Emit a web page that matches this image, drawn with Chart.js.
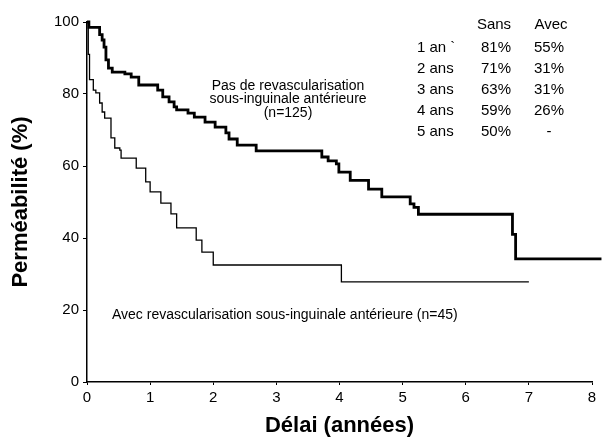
<!DOCTYPE html>
<html>
<head>
<meta charset="utf-8">
<script src="https://cdn.jsdelivr.net/npm/chart.js@4.4.1/dist/chart.umd.min.js"></script>
<style>
  body { margin: 0; background: #fff; }
  canvas { display: block; }
</style>
</head>
<body>
<canvas id="km" width="602" height="444"></canvas>
<script>
// courbes de Kaplan-Meier (temps en années, permeabilité en %)
const sansTemps = [0, 0.03, 0.2, 0.24, 0.27, 0.3, 0.34, 0.4, 0.6, 0.7, 0.82, 1.12, 1.2, 1.3, 1.38, 1.42, 1.6, 1.7, 1.87, 2.03, 2.2, 2.25, 2.38, 2.68, 3.72, 3.82, 3.95, 3.99, 4.17, 4.46, 4.67, 5.12, 5.18, 5.25, 6.74, 6.79, 8.15];
const sansValeurs = [100, 98.5, 96.5, 95, 93, 89.5, 87.2, 86.1, 85.6, 84.7, 82.5, 81.1, 79.2, 77.8, 76.4, 75.6, 74.7, 73.6, 72.2, 70.8, 69.2, 67.5, 65.8, 64.2, 62.5, 61.4, 60.6, 58.3, 56, 53.6, 51.4, 49.5, 48.5, 46.6, 41, 34.2, 34.2];

const avecTemps = [0, 0.02, 0.04, 0.1, 0.14, 0.2, 0.24, 0.28, 0.38, 0.44, 0.52, 0.54, 0.78, 0.93, 1.0, 1.17, 1.33, 1.42, 1.73, 1.82, 2.0, 4.03, 7.0];
const avecValeurs = [100, 91, 84, 81.1, 80.3, 77.5, 75, 73.3, 67.8, 65, 64.4, 62.2, 59.4, 55.6, 52.8, 49.7, 46.7, 42.8, 39.4, 36.1, 32.5, 27.8, 27.8];

// tableau en haut à droite
const tableLignes = ['1 an `', '2 ans', '3 ans', '4 ans', '5 ans'];
const tableSans = ['81%', '71%', '63%', '59%', '50%'];
const tableAvec = ['55%', '31%', '31%', '26%', '-'];

const xTicks = [0, 1, 2, 3, 4, 5, 6, 7, 8];
const yTicks = [0, 20, 40, 60, 80, 100];

const police = '"Liberation Sans", Arial, sans-serif';

function points(t, v) {
  return t.map((x, i) => ({ x: x, y: v[i] }));
}

// textes libres de la figure
const textes = {
  id: 'textes',
  afterDraw(chart) {
    const ctx = chart.ctx;
    ctx.save();
    ctx.fillStyle = '#000';
    ctx.textBaseline = 'middle';

    ctx.font = '14px ' + police;
    ctx.textAlign = 'center';
    ctx.fillText('Pas de revascularisation', 288, 86);
    ctx.fillText('sous-inguinale antérieure', 288, 99);
    ctx.fillText('(n=125)', 288, 113);

    ctx.textAlign = 'left';
    ctx.fillText('Avec revascularisation sous-inguinale antérieure (n=45)', 112, 315);

    ctx.font = '15px ' + police;
    ctx.textAlign = 'center';
    ctx.fillText('Sans', 494, 25);
    ctx.fillText('Avec', 551, 25);
    tableLignes.forEach((l, i) => {
      const y = 48 + i * 21;
      ctx.textAlign = 'left';
      ctx.fillText(l, 417, y);
      ctx.textAlign = 'center';
      ctx.fillText(tableSans[i], 496, y);
      ctx.fillText(tableAvec[i], 549, y);
    });
    ctx.restore();
  }
};

new Chart(document.getElementById('km'), {
  type: 'line',
  data: {
    datasets: [
      {
        label: 'Sans',
        data: points(sansTemps, sansValeurs),
        stepped: true,
        borderColor: '#000',
        borderWidth: 2.8,
        pointRadius: 0,
        fill: false,
        clip: false
      },
      {
        label: 'Avec',
        data: points(avecTemps, avecValeurs),
        stepped: true,
        borderColor: '#000',
        borderWidth: 1.3,
        pointRadius: 0,
        fill: false
      }
    ]
  },
  options: {
    responsive: false,
    animation: false,
    layout: { padding: { top: 22, right: 10, left: 0, bottom: 0 } },
    plugins: {
      legend: { display: false },
      tooltip: { enabled: false }
    },
    scales: {
      x: {
        type: 'linear',
        min: 0,
        max: 8,
        afterFit: s => { s.height = 62; },
        afterBuildTicks: s => { s.ticks = xTicks.map(v => ({ value: v })); },
        ticks: { color: '#000', font: { family: police, size: 15 }, padding: 4 },
        grid: { drawOnChartArea: false, color: '#000', tickLength: 3 },
        border: { color: '#000', width: 1.5 },
        title: {
          display: true,
          text: 'Délai (années)',
          color: '#000',
          font: { family: police, size: 22, weight: 'bold' },
          padding: { bottom: 5 }
        }
      },
      y: {
        min: 0,
        max: 100,
        afterFit: s => { s.width = 87; },
        afterBuildTicks: s => { s.ticks = yTicks.map(v => ({ value: v })); },
        ticks: { color: '#000', font: { family: police, size: 15 }, padding: 4 },
        grid: { drawOnChartArea: false, color: '#000', tickLength: 4 },
        border: { color: '#000', width: 1.5 },
        title: {
          display: true,
          text: 'Perméabilité (%)',
          color: '#000',
          font: { family: police, size: 22, weight: 'bold' },
          padding: { top: 8 }
        }
      }
    }
  },
  plugins: [textes]
});
</script>
</body>
</html>
